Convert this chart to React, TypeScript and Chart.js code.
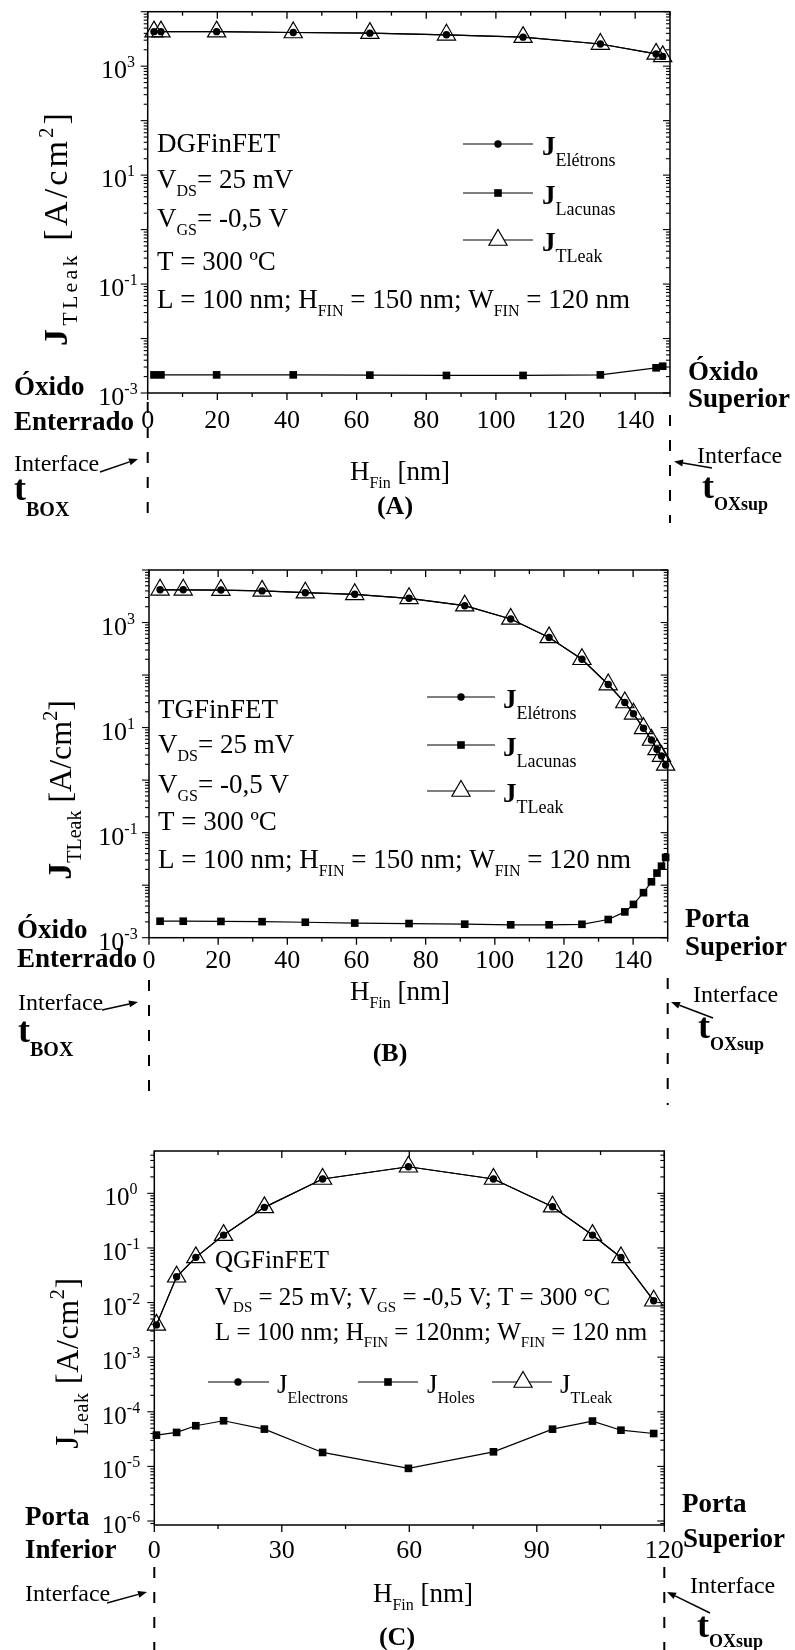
import React, { useEffect, useRef } from 'react';
import { Chart, registerables } from 'chart.js';
Chart.register(...registerables);

const FONT = "'Liberation Serif', 'Times New Roman', serif";

// ---------- Panel A (DGFinFET) ----------
const hfinA = [1.8, 3.8, 19.8, 41.8, 63.8, 85.8, 107.8, 130, 146, 147.9];
const electronsA = [4300, 4300, 4300, 4150, 4040, 3770, 3410, 2550, 1680, 1510];
const holesA = [0.00215, 0.00215, 0.00215, 0.00215, 0.00213, 0.0021, 0.0021, 0.00215, 0.0029, 0.0031];
const tleakA = [4300, 4300, 4300, 4150, 4040, 3770, 3410, 2550, 1680, 1510];

// ---------- Panel B (TGFinFET) ----------
const hfinB = [3.2, 9.9, 20.8, 32.7, 45.2, 59.5, 75.2, 91.3, 104.6, 115.7, 125.2, 132.8, 137.6, 140.1, 143.0, 145.3, 146.9, 148.2, 149.4];
const electronsB = [4200, 4200, 4150, 4000, 3700, 3450, 2890, 2090, 1170, 520, 200, 66, 30, 18.3, 9.7, 5.8, 3.85, 2.87, 1.93];
const holesB = [0.00206, 0.00206, 0.00204, 0.00202, 0.00197, 0.0019, 0.00186, 0.00181, 0.00176, 0.00176, 0.0018, 0.00222, 0.0031, 0.0043, 0.0072, 0.0116, 0.017, 0.023, 0.0337];
const tleakB = [4200, 4200, 4150, 4000, 3700, 3450, 2890, 2090, 1170, 520, 200, 66, 30, 18.3, 9.7, 5.8, 3.85, 2.87, 1.95];

// ---------- Panel C (QGFinFET) ----------
const hfinC = [0.5, 5.25, 9.77, 16.3, 25.9, 39.6, 59.8, 79.8, 93.7, 103.1, 109.8, 117.5];
const electronsC = [0.0039, 0.0297, 0.0673, 0.172, 0.554, 1.83, 3.07, 1.83, 0.569, 0.172, 0.067, 0.0108];
const holesC = [3.74e-5, 4.19e-5, 5.55e-5, 6.85e-5, 4.82e-5, 1.8e-5, 9.2e-6, 1.85e-5, 4.8e-5, 6.76e-5, 4.6e-5, 4.0e-5];
const tleakC = [0.0039, 0.0297, 0.0673, 0.172, 0.554, 1.83, 3.07, 1.83, 0.569, 0.172, 0.067, 0.0108];

// tick labels
const xTicksAB = [0, 20, 40, 60, 80, 100, 120, 140];
const xTicksC = [0, 30, 60, 90, 120];
const yDecadesAB = [-3, -1, 1, 3];
const yDecadesC = [-6, -5, -4, -3, -2, -1, 0];

type Seg = { t: string; s: number; b?: boolean; dy?: number };
const fnt = (s: number, b?: boolean) => `${b ? 'bold ' : ''}${s}px ${FONT}`;

function setLS(ctx: any, ls: number) {
  if ('letterSpacing' in ctx) ctx.letterSpacing = `${ls}px`;
}
function measure(ctx: CanvasRenderingContext2D, segs: Seg[]) {
  let w = 0;
  for (const g of segs) { ctx.font = fnt(g.s, g.b); w += ctx.measureText(g.t).width; }
  return w;
}
function rich(ctx: CanvasRenderingContext2D, segs: Seg[], x: number, y: number, align = 'left', rot = 0, ls = 0) {
  ctx.save();
  ctx.translate(x, y);
  if (rot) ctx.rotate(rot);
  setLS(ctx, ls);
  const w = measure(ctx, segs);
  let cx = align === 'left' ? 0 : align === 'center' ? -w / 2 : -w;
  ctx.fillStyle = '#000';
  ctx.textAlign = 'left';
  ctx.textBaseline = 'alphabetic';
  for (const g of segs) {
    ctx.font = fnt(g.s, g.b);
    ctx.fillText(g.t, cx, g.dy || 0);
    cx += ctx.measureText(g.t).width;
  }
  setLS(ctx, 0);
  ctx.restore();
}
function seg(t: string, s: number, b?: boolean, dy?: number): Seg { return { t, s, b, dy }; }
function line(ctx: CanvasRenderingContext2D, x1: number, y1: number, x2: number, y2: number) {
  ctx.beginPath(); ctx.moveTo(x1, y1); ctx.lineTo(x2, y2); ctx.stroke();
}
function arrow(ctx: CanvasRenderingContext2D, x1: number, y1: number, x2: number, y2: number) {
  ctx.save();
  ctx.strokeStyle = '#000'; ctx.fillStyle = '#000'; ctx.lineWidth = 1.5;
  const a = Math.atan2(y2 - y1, x2 - x1);
  const hl = 9, hw = 3.5;
  const bx = x2 - Math.cos(a) * hl, by = y2 - Math.sin(a) * hl;
  line(ctx, x1, y1, bx, by);
  ctx.beginPath();
  ctx.moveTo(x2, y2);
  ctx.lineTo(bx + Math.sin(a) * hw, by - Math.cos(a) * hw);
  ctx.lineTo(bx - Math.sin(a) * hw, by + Math.cos(a) * hw);
  ctx.closePath(); ctx.fill();
  ctx.restore();
}
function dashed(ctx: CanvasRenderingContext2D, x: number, y1: number, y2: number) {
  ctx.save();
  ctx.strokeStyle = '#000'; ctx.lineWidth = 2; ctx.setLineDash([11, 14]);
  line(ctx, x, y1, x, y2);
  ctx.restore();
}
function marker(ctx: CanvasRenderingContext2D, kind: string, x: number, y: number) {
  ctx.save();
  ctx.fillStyle = '#000'; ctx.strokeStyle = '#000'; ctx.lineWidth = 1.2;
  if (kind === 'circle') { ctx.beginPath(); ctx.arc(x, y, 3.7, 0, Math.PI * 2); ctx.fill(); }
  else if (kind === 'rect') { ctx.fillRect(x - 3.8, y - 3.8, 7.6, 7.6); }
  else {
    const r = 10.5;
    ctx.beginPath();
    ctx.moveTo(x, y - r);
    ctx.lineTo(x + r * Math.sin(2 * Math.PI / 3), y + r / 2);
    ctx.lineTo(x - r * Math.sin(2 * Math.PI / 3), y + r / 2);
    ctx.closePath();
    ctx.fillStyle = '#fff'; ctx.fill(); ctx.stroke();
  }
  ctx.restore();
}

type PanelCfg = {
  area: { l: number; t: number; r: number; b: number };
  xMin: number; xMax: number; xMajor: number; xMinor: number;
  xTicks: number[]; xLabelBase: number; xLabelSize: number;
  yMin: number; yMax: number; yDecades: number[]; yLabelCx: number; yLabelSize: number;
  hfin: number[]; electrons: number[]; holes: number[]; tleak: number[];
  extra: (ctx: CanvasRenderingContext2D) => void;
};

function makeFramePlugin(cfg: PanelCfg) {
  return {
    id: 'originFrame',
    afterDatasetsDraw(chart: any) {
      const ctx: CanvasRenderingContext2D = chart.ctx;
      const { left, right, top, bottom } = chart.chartArea;
      const xs = chart.scales.x, ys = chart.scales.y;
      ctx.save();
      ctx.strokeStyle = '#000';
      ctx.lineWidth = 1.3;
      const n = Math.round((cfg.xMax - cfg.xMin) / cfg.xMinor);
      for (let i = 0; i <= n; i++) {
        const v = cfg.xMin + i * cfg.xMinor;
        const px = xs.getPixelForValue(v);
        const major = Math.abs(v / cfg.xMajor - Math.round(v / cfg.xMajor)) < 1e-6;
        const len = major ? 7 : 4;
        line(ctx, px, bottom, px, bottom + len);
        line(ctx, px, top, px, top + len);
      }
      const d0 = Math.floor(Math.log10(cfg.yMin)), d1 = Math.ceil(Math.log10(cfg.yMax));
      ctx.lineWidth = 1.1;
      for (let d = d0; d <= d1; d++) {
        for (let m = 1; m < 10; m++) {
          const v = m * Math.pow(10, d);
          if (v < cfg.yMin * 0.999 || v > cfg.yMax * 1.001) continue;
          const py = ys.getPixelForValue(v);
          const len = m === 1 ? 7 : 4;
          line(ctx, left - len, py, left, py);
          line(ctx, right - len, py, right, py);
        }
      }
      ctx.lineWidth = 1.5;
      ctx.strokeRect(left, top, right - left, bottom - top);
      for (const v of cfg.xTicks) {
        rich(ctx, [seg(String(v), cfg.xLabelSize)], xs.getPixelForValue(v), cfg.xLabelBase, 'center');
      }
      for (const d of cfg.yDecades) {
        const py = ys.getPixelForValue(Math.pow(10, d));
        rich(ctx, [seg('10', cfg.yLabelSize), seg(String(d), 16, false, -11)], cfg.yLabelCx, py + 12, 'center');
      }
      ctx.restore();
      cfg.extra(ctx);
    },
  };
}

function legendRow(ctx: CanvasRenderingContext2D, kind: string, x1: number, x2: number, xm: number, y: number, jx: number, label: string, jb: boolean, js: number, ss: number, sdy: number) {
  ctx.save(); ctx.strokeStyle = '#000'; ctx.lineWidth = 1.2;
  line(ctx, x1, y, x2, y);
  ctx.restore();
  marker(ctx, kind, xm, y);
  rich(ctx, [seg('J', js, jb), seg(label, ss, false, sdy)], jx, y + 11, 'left');
}

const SUB = 16;
function extraA(ctx: CanvasRenderingContext2D) {
  const S = 27;
  rich(ctx, [seg('DGFinFET', S)], 157, 152);
  rich(ctx, [seg('V', S), seg('DS', SUB, false, 8), seg('= 25 mV', S)], 157, 188);
  rich(ctx, [seg('V', S), seg('GS', SUB, false, 8), seg('= -0,5 V', S)], 157, 227);
  rich(ctx, [seg('T = 300 ºC', S)], 157, 270);
  rich(ctx, [seg('L = 100 nm; H', S), seg('FIN', SUB, false, 8), seg(' = 150 nm; W', S), seg('FIN', SUB, false, 8), seg(' = 120 nm', S)], 157, 308);
  legendRow(ctx, 'circle', 463, 533, 498, 144, 542, 'Elétrons', true, 27, 18, 11);
  legendRow(ctx, 'rect', 463, 533, 498, 193, 542, 'Lacunas', true, 27, 18, 11);
  legendRow(ctx, 'tri', 463, 533, 498, 240, 542, 'TLeak', true, 27, 18, 11);
  rich(ctx, [seg('J', 34, true), seg('TLeak', 22, false, 10), seg(' [A/cm', 34), seg('2', 20, false, -14), seg(']', 34)], 67, 228, 'center', -Math.PI / 2, 3.2);
  rich(ctx, [seg('H', 27), seg('Fin', SUB, false, 8), seg(' [nm]', 27)], 400, 480, 'center');
  rich(ctx, [seg('(A)', 26, true)], 395, 514, 'center');
  rich(ctx, [seg('Óxido', 27, true)], 14, 395);
  rich(ctx, [seg('Enterrado', 27, true)], 14, 430);
  rich(ctx, [seg('Interface', 24)], 14, 471);
  arrow(ctx, 100, 472, 138, 459);
  rich(ctx, [seg('t', 36, true), seg('BOX', 20, true, 16)], 14, 500);
  dashed(ctx, 147.7, 402, 523);
  rich(ctx, [seg('Óxido', 27, true)], 688, 380);
  rich(ctx, [seg('Superior', 27, true)], 688, 407);
  rich(ctx, [seg('Interface', 24)], 697, 463);
  arrow(ctx, 712, 468, 674, 461.5);
  rich(ctx, [seg('t', 36, true), seg('OXsup', 18, true, 12)], 702, 498);
  dashed(ctx, 670, 415, 523);
}

function extraB(ctx: CanvasRenderingContext2D) {
  const S = 27;
  rich(ctx, [seg('TGFinFET', S)], 158, 718);
  rich(ctx, [seg('V', S), seg('DS', SUB, false, 8), seg('= 25 mV', S)], 158, 753);
  rich(ctx, [seg('V', S), seg('GS', SUB, false, 8), seg('= -0,5 V', S)], 158, 793);
  rich(ctx, [seg('T = 300 ºC', S)], 158, 830);
  rich(ctx, [seg('L = 100 nm; H', S), seg('FIN', SUB, false, 8), seg(' = 150 nm; W', S), seg('FIN', SUB, false, 8), seg(' = 120 nm', S)], 158, 868);
  legendRow(ctx, 'circle', 427, 495, 461, 697, 503, 'Elétrons', true, 27, 18, 11);
  legendRow(ctx, 'rect', 427, 495, 461, 745, 503, 'Lacunas', true, 27, 18, 11);
  legendRow(ctx, 'tri', 427, 495, 461, 791, 503, 'TLeak', true, 27, 18, 11);
  rich(ctx, [seg('J', 34, true), seg('TLeak', 20, false, 10), seg(' [A/cm', 32), seg('2', 20, false, -14), seg(']', 32)], 71, 790, 'center', -Math.PI / 2);
  rich(ctx, [seg('H', 27), seg('Fin', SUB, false, 8), seg(' [nm]', 27)], 400, 1000, 'center');
  rich(ctx, [seg('(B)', 26, true)], 390, 1061, 'center');
  rich(ctx, [seg('Óxido', 27, true)], 17, 938);
  rich(ctx, [seg('Enterrado', 27, true)], 17, 967);
  rich(ctx, [seg('Interface', 24)], 18, 1010);
  arrow(ctx, 102, 1010, 138, 1002);
  rich(ctx, [seg('t', 36, true), seg('BOX', 20, true, 14)], 18, 1042);
  dashed(ctx, 149, 980, 1105);
  rich(ctx, [seg('Porta', 27, true)], 685, 927);
  rich(ctx, [seg('Superior', 27, true)], 685, 955);
  rich(ctx, [seg('Interface', 24)], 693, 1002);
  arrow(ctx, 713, 1018, 671, 1002);
  rich(ctx, [seg('t', 36, true), seg('OXsup', 18, true, 12)], 698, 1038);
  dashed(ctx, 667.7, 978, 1105);
}

function extraC(ctx: CanvasRenderingContext2D) {
  const S = 25, s = 15;
  rich(ctx, [seg('QGFinFET', S)], 215, 1268);
  rich(ctx, [seg('V', S), seg('DS', s, false, 7), seg(' = 25 mV; V', S), seg('GS', s, false, 7), seg(' = -0,5 V; T = 300 °C', S)], 215, 1305);
  rich(ctx, [seg('L = 100 nm; H', S), seg('FIN', s, false, 7), seg(' = 120nm; W', S), seg('FIN', s, false, 7), seg(' = 120 nm', S)], 215, 1340);
  legendRow(ctx, 'circle', 208, 269, 238, 1382, 277, 'Electrons', false, 27, 16, 10);
  legendRow(ctx, 'rect', 358, 418, 388, 1382, 427, 'Holes', false, 27, 16, 10);
  legendRow(ctx, 'tri', 492, 552, 523, 1382, 560, 'TLeak', false, 27, 16, 10);
  rich(ctx, [seg('J', 34), seg('Leak', 20, false, 10), seg(' [A/cm', 32), seg('2', 20, false, -14), seg(']', 32)], 78, 1363, 'center', -Math.PI / 2, 0.6);
  rich(ctx, [seg('H', 27), seg('Fin', SUB, false, 8), seg(' [nm]', 27)], 423, 1602, 'center');
  rich(ctx, [seg('(C)', 26, true)], 397, 1645, 'center');
  rich(ctx, [seg('Porta', 27, true)], 25, 1525);
  rich(ctx, [seg('Inferior', 27, true)], 25, 1558);
  rich(ctx, [seg('Interface', 24)], 25, 1601);
  arrow(ctx, 107, 1603, 147, 1592);
  dashed(ctx, 154.3, 1567, 1650);
  rich(ctx, [seg('Porta', 27, true)], 682, 1512);
  rich(ctx, [seg('Superior', 27, true)], 683, 1547);
  rich(ctx, [seg('Interface', 24)], 690, 1593);
  arrow(ctx, 710, 1613, 667, 1592);
  rich(ctx, [seg('t', 36, true), seg('OXsup', 18, true, 10)], 697, 1637);
  dashed(ctx, 664.3, 1567, 1650);
}

const panels: PanelCfg[] = [
  {
    area: { l: 147.7, t: 10, r: 670, b: 393 },
    xMin: 0, xMax: 150, xMajor: 20, xMinor: 10, xTicks: xTicksAB, xLabelBase: 428, xLabelSize: 26,
    yMin: 1e-3, yMax: 1e4, yDecades: yDecadesAB, yLabelCx: 118, yLabelSize: 26,
    hfin: hfinA, electrons: electronsA, holes: holesA, tleak: tleakA, extra: extraA,
  },
  {
    area: { l: 149, t: 570, r: 667.7, b: 937.7 },
    xMin: 0, xMax: 150, xMajor: 20, xMinor: 10, xTicks: xTicksAB, xLabelBase: 968, xLabelSize: 26,
    yMin: 1e-3, yMax: 1e4, yDecades: yDecadesAB, yLabelCx: 118, yLabelSize: 26,
    hfin: hfinB, electrons: electronsB, holes: holesB, tleak: tleakB, extra: extraB,
  },
  {
    area: { l: 154.3, t: 1151, r: 664.3, b: 1525 },
    xMin: 0, xMax: 120, xMajor: 30, xMinor: 15, xTicks: xTicksC, xLabelBase: 1558, xLabelSize: 26,
    yMin: 8.45e-7, yMax: 5.96, yDecades: yDecadesC, yLabelCx: 121, yLabelSize: 25,
    hfin: hfinC, electrons: electronsC, holes: holesC, tleak: tleakC, extra: extraC,
  },
];

const W = 795, H = 1650;

function Panel({ cfg }: { cfg: PanelCfg }) {
  const ref = useRef<HTMLCanvasElement | null>(null);
  useEffect(() => {
    if (!ref.current) return;
    const pts = (ys: number[]) => cfg.hfin.map((x, i) => ({ x, y: ys[i] }));
    const base = { borderColor: '#000', borderWidth: 1.2, showLine: true, tension: 0, clip: false as any, fill: false };
    const chart = new Chart(ref.current, {
      type: 'line',
      data: {
        datasets: [
          { ...base, label: 'Electrons', data: pts(cfg.electrons), pointStyle: 'circle', pointRadius: 3.7, pointBackgroundColor: '#000', pointBorderColor: '#000', pointBorderWidth: 0 },
          { ...base, label: 'Holes', data: pts(cfg.holes), pointStyle: 'rect', pointRadius: 5.4, pointBackgroundColor: '#000', pointBorderColor: '#000', pointBorderWidth: 0 },
          { ...base, label: 'TLeak', data: pts(cfg.tleak), pointStyle: 'triangle', pointRadius: 10.5, pointBackgroundColor: 'rgba(0,0,0,0)', pointBorderColor: '#000', pointBorderWidth: 1.2 },
        ] as any,
      },
      options: {
        animation: false,
        responsive: false,
        devicePixelRatio: 1,
        layout: { padding: { left: cfg.area.l, top: cfg.area.t, right: W - cfg.area.r, bottom: H - cfg.area.b } },
        plugins: { legend: { display: false }, tooltip: { enabled: false } },
        scales: {
          x: { type: 'linear', min: cfg.xMin, max: cfg.xMax, display: false },
          y: { type: 'logarithmic', min: cfg.yMin, max: cfg.yMax, display: false },
        },
        events: [],
      } as any,
      plugins: [makeFramePlugin(cfg)],
    });
    return () => chart.destroy();
  }, [cfg]);
  return (
    <canvas ref={ref} width={W} height={H}
      style={{ position: 'absolute', left: 0, top: 0, width: W, height: H }} />
  );
}

export default function App() {
  return (
    <div style={{ position: 'absolute', left: 0, top: 0, width: W, height: H, background: '#fff', overflow: 'hidden' }}>
      {panels.map((p, i) => <Panel key={i} cfg={p} />)}
    </div>
  );
}
